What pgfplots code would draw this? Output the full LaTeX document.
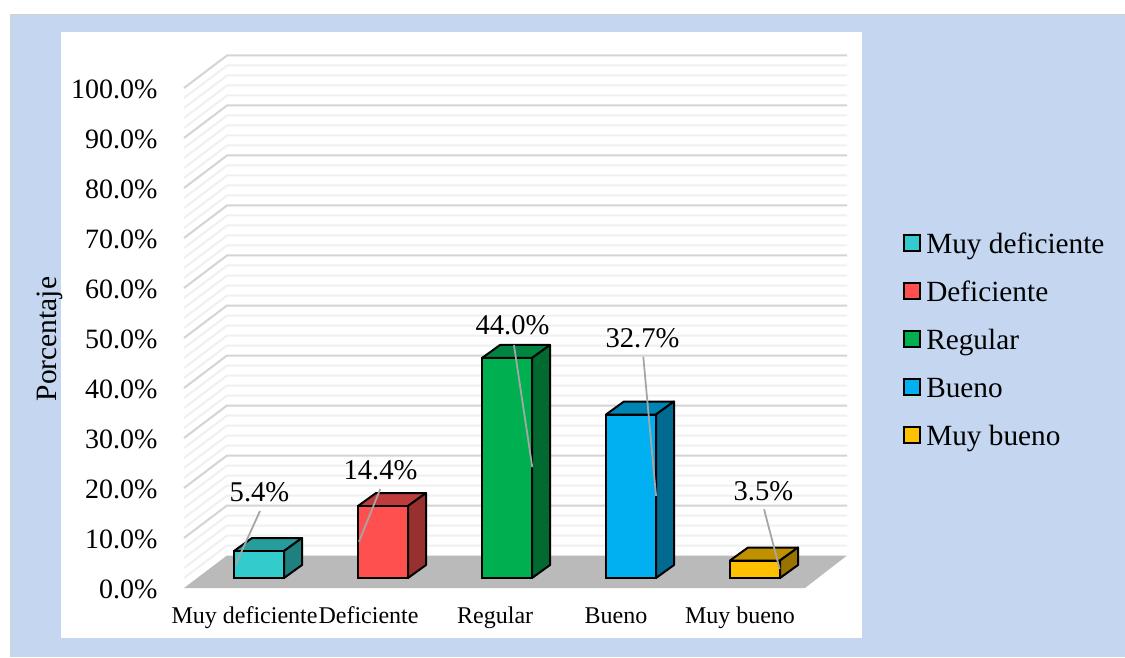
\documentclass[border=0pt]{standalone}
\usepackage{pgfplots}
\pgfplotsset{compat=1.18}
\usepackage{fontspec}
\setmainfont{Liberation Serif}
\newcommand{\fs}[1]{\fontsize{#1}{#1}\selectfont}

\definecolor{bgblue}{HTML}{C5D7F0}
\definecolor{cyanF}{HTML}{33CCCC}\definecolor{cyanT}{HTML}{269D9D}\definecolor{cyanS}{HTML}{1F8080}
\definecolor{redF}{HTML}{FF5050}\definecolor{redT}{HTML}{BF3C3C}\definecolor{redS}{HTML}{993030}
\definecolor{greenF}{HTML}{00B050}\definecolor{greenT}{HTML}{008442}\definecolor{greenS}{HTML}{006A30}
\definecolor{blueF}{HTML}{00B0F0}\definecolor{blueT}{HTML}{0084B4}\definecolor{blueS}{HTML}{006A90}
\definecolor{yelF}{HTML}{FFC000}\definecolor{yelT}{HTML}{BF9000}\definecolor{yelS}{HTML}{997300}

% position, value, top colour, side colour
\newcommand{\barsides}[4]{%
\addplot[fill=#3, draw=black, line width=2pt, line join=round, forget plot] coordinates {
  ({#1-0.2016},#2) ({#1+0.2016},#2) ({#1+0.3468},{#2+2.6}) ({#1-0.0565},{#2+2.6})} -- cycle;
\addplot[fill=#4, draw=black, line width=2pt, line join=round, forget plot] coordinates {
  ({#1+0.2016},0) ({#1+0.3468},2.6) ({#1+0.3468},{#2+2.6}) ({#1+0.2016},#2)} -- cycle;
}
\pgfplotsset{
  frontbar/.style={ybar, bar width=50pt, bar shift=0pt, fill=#1, draw=black, line width=2pt,
    legend image code/.code={\draw[fill=#1, draw=black, line width=2pt] (-0.5pt,-3.5pt) rectangle (15.5pt,12.5pt);}},
  leader/.style={color=black!35, line width=1.8pt, forget plot},
  panel/.style={width=663pt, height=532.5pt, scale only axis, at={(184pt,69pt)}, anchor=south west,
    xmin=-0.6089, xmax=4.7379, clip=false}
}

\begin{document}
\begin{tikzpicture}[x=1pt,y=1pt]
\useasboundingbox (0,0) rectangle (1125,657);
\fill[white] (0,0) rectangle (1125,657);
\fill[black!18] (10,0) rectangle (1125,643);
\fill[bgblue] (11,0) rectangle (1125,642);
\fill[white] (61,19) rectangle (862,625);

% back wall, floor, percent scale
\begin{axis}[panel,
  ymin=0, ymax=106.5,
  axis line style={draw=none},
  major tick length=0pt,
  ytick={0,10,...,100},
  yticklabel={\pgfmathprintnumber[fixed,fixed zerofill,precision=1,assume math mode=true]{\tick}\%},
  y tick label style={font=\fs{28}, xshift=-23pt, yshift=-1pt},
  xtick={-0.117,0.883,1.905,2.879,3.879},
  xticklabels={Muy deficiente,Deficiente,Regular,Bueno,Muy bueno},
  x tick label style={font=\fs{24}, yshift=-15pt, xshift=-0.5pt, text height=17pt, text depth=6pt},
  ylabel={Porcentaje},
  every axis y label/.style={at={(axis cs:-1.69,49.8)}, rotate=90, anchor=center, font=\fs{29.5}},
]
\pgfplotsinvokeforeach{2,4,6,8,12,14,16,18,22,24,26,28,32,34,36,38,42,44,46,48,52,54,56,58,62,64,66,68,72,74,76,78,82,84,86,88,92,94,96,98}{
  \addplot[color=black!6, line width=2pt, forget plot] coordinates {(-0.6089,#1) (-0.2621,{#1+6.5}) (4.7379,{#1+6.5})};
}
\pgfplotsinvokeforeach{10,20,30,40,50,60,70,80,90,100}{
  \addplot[color=black!17, line width=2pt, forget plot] coordinates {(-0.6089,#1) (-0.2621,{#1+6.5}) (4.7379,{#1+6.5})};
}
\addplot[fill=black!27, draw=none, forget plot] coordinates {(-0.6089,0) (-0.2621,6.5) (4.7379,6.5) (4.399,0)} -- cycle;
\end{axis}

% bars: base of the bars sits 2 units above the front edge of the floor
\begin{axis}[panel,
  ymin=-2, ymax=104.5,
  hide axis,
  legend style={at={(axis cs:5.19,68.9)}, anchor=north west, draw=none, fill=none,
    font=\fs{29.3}, row sep=21pt, inner sep=0pt, legend cell align=left,
    nodes={text height=20pt, text depth=7pt, inner sep=0pt},
    /tikz/every odd column/.append style={column sep=5pt}},
]
\barsides{-0.004}{5.4}{cyanT}{cyanS}
\barsides{0.996}{14.4}{redT}{redS}
\barsides{1.996}{44.0}{greenT}{greenS}
\barsides{2.996}{32.7}{blueT}{blueS}
\barsides{3.996}{3.5}{yelT}{yelS}

\addplot[frontbar=cyanF] coordinates {(-0.004,5.4)};
\addlegendentry{Muy deficiente}
\addplot[frontbar=redF] coordinates {(0.996,14.4)};
\addlegendentry{Deficiente}
\addplot[frontbar=greenF] coordinates {(1.996,44.0)};
\addlegendentry{Regular}
\addplot[frontbar=blueF] coordinates {(2.996,32.7)};
\addlegendentry{Bueno}
\addplot[frontbar=yelF] coordinates {(3.996,3.5)};
\addlegendentry{Muy bueno}

\addplot[leader] coordinates {(0.004,13.4) (-0.192,2.74)};
\addplot[leader] coordinates {(0.974,17.8) (0.802,7.26)};
\addplot[leader] coordinates {(2.052,46.6) (2.2,22.14)};
\addplot[leader] coordinates {(3.095,44.26) (3.198,16.4)};
\addplot[leader] coordinates {(4.069,13.74) (4.195,1.8)};

\node[font=\fs{28.6}] at (axis cs:0.0,17.2) {5.4\%};
\node[font=\fs{28.6}] at (axis cs:0.976,21.6) {14.4\%};
\node[font=\fs{28.6}] at (axis cs:2.04,50.6) {44.0\%};
\node[font=\fs{28.6}] at (axis cs:3.089,48) {32.7\%};
\node[font=\fs{28.6}] at (axis cs:4.064,17.4) {3.5\%};
\end{axis}
\end{tikzpicture}
\end{document}
